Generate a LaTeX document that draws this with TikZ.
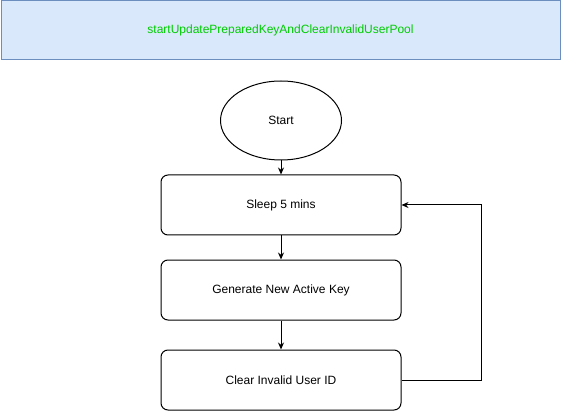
\documentclass[tikz,border=0pt]{standalone}
\usepackage{fontspec}
\setmainfont{Liberation Sans}
\usetikzlibrary{arrows.meta,shapes.geometric}
\definecolor{bannerfill}{HTML}{DAE8FC}
\definecolor{bannerline}{HTML}{6C8EBF}
\definecolor{bannertext}{HTML}{00CC00}
\tikzset{
  stepbox/.style={draw, line width=1pt, rounded corners=7pt, minimum width=240pt, minimum height=60pt, inner sep=0pt, font=\fontsize{12}{14}\selectfont},
  flow/.style={draw, line width=1pt, -{Stealth[length=7pt,width=6pt]}},
}
\begin{document}
\begin{tikzpicture}[x=1pt,y=-1pt]
\useasboundingbox (0,0) rectangle (561,411);
\node[draw=bannerline, fill=bannerfill, line width=1pt, minimum width=559pt, minimum height=59pt, inner sep=0pt, text=bannertext, font=\fontsize{12}{14}\selectfont] (banner) at (280.5,30.5) {startUpdatePreparedKeyAndClearInvalidUserPool};
\node[draw, ellipse, line width=1pt, minimum width=121pt, minimum height=79pt, inner sep=0pt, font=\fontsize{12}{14}\selectfont] (start) at (281,120.5) {Start};
\node[stepbox] (sleep) at (281,205) {Sleep 5 mins};
\node[stepbox] (gen) at (281,290) {Generate New Active Key};
\node[stepbox] (clear) at (281,380) {Clear Invalid User ID};
\coordinate (c1) at (481,380);
\coordinate (c2) at (481,205);
\draw[flow] (start) -- (sleep);
\draw[flow] (sleep) -- (gen);
\draw[flow] (gen) -- (clear);
\draw[flow] (clear.east) -- (c1) -- (c2) -- (sleep.east);
\end{tikzpicture}
\end{document}
